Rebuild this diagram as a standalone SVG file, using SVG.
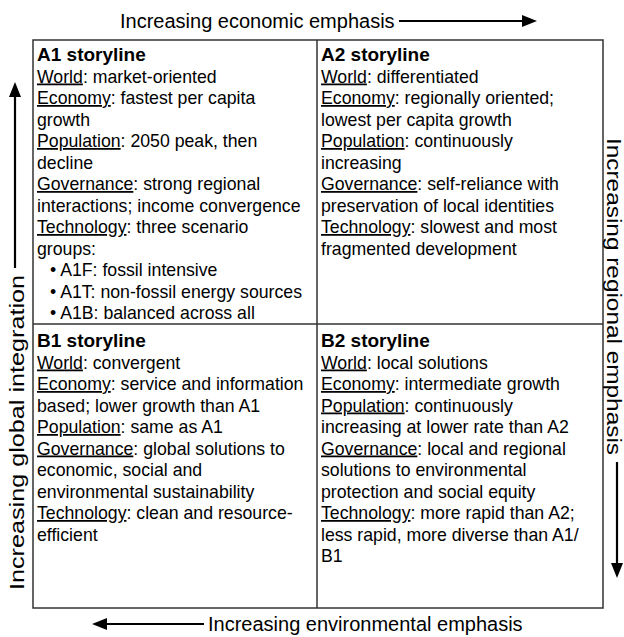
<svg xmlns="http://www.w3.org/2000/svg" width="624" height="637" viewBox="0 0 624 637">
  <style>
    .frame { fill: none; stroke: #333; stroke-width: 1.5; }
    .axis { stroke: #000; stroke-width: 2.2; fill: none; }
    .axislabel { font-family: "Liberation Sans", Arial, sans-serif; font-size: 20px; fill: #000; }
    .body { font-family: "Liberation Sans", Arial, sans-serif; font-size: 17.7px; fill: #000; }
    .head { font-weight: bold; font-size: 19px; }
    .u { text-decoration: underline; }
  </style>
  <defs>
    <marker id="head" viewBox="0 0 15 12" refX="0" refY="6" markerWidth="15" markerHeight="12" markerUnits="userSpaceOnUse" orient="auto">
      <path d="M0,0 L15,6 L0,12 Z" fill="#000"/>
    </marker>
  </defs>

  <!-- quadrant frame -->
  <rect class="frame" x="33" y="40" width="570" height="568"/>
  <line class="frame" x1="317" y1="40" x2="317" y2="608"/>
  <line class="frame" x1="33" y1="324" x2="603" y2="324"/>

  <!-- axis arrows -->
  <g id="connectors">
    <line class="axis" x1="399" y1="21" x2="522" y2="21" marker-end="url(#head)"/>
    <line class="axis" x1="204" y1="624" x2="107" y2="624" marker-end="url(#head)"/>
    <line class="axis" x1="15" y1="268" x2="15" y2="97" marker-end="url(#head)"/>
    <line class="axis" x1="617" y1="462" x2="617" y2="563" marker-end="url(#head)"/>
  </g>

  <g id="axis-labels">
    <text class="axislabel" x="120" y="28">Increasing economic emphasis</text>
    <text class="axislabel" x="208" y="631">Increasing environmental emphasis</text>
    <text class="axislabel" transform="translate(24,590) rotate(-90)" textLength="315" lengthAdjust="spacingAndGlyphs">Increasing global integration</text>
    <text class="axislabel" transform="translate(607,138) rotate(90)" textLength="317" lengthAdjust="spacingAndGlyphs">Increasing regional emphasis</text>
  </g>

  <g id="a1">
    <text class="body">
      <tspan class="head" x="37" y="61">A1 storyline</tspan>
      <tspan x="37" y="82.5"><tspan class="u">World</tspan>: market-oriented</tspan>
      <tspan x="37" y="104"><tspan class="u">Economy</tspan>: fastest per capita</tspan>
      <tspan x="37" y="125.5">growth</tspan>
      <tspan x="37" y="147"><tspan class="u">Population</tspan>: 2050 peak, then</tspan>
      <tspan x="37" y="168.5">decline</tspan>
      <tspan x="37" y="190"><tspan class="u">Governance</tspan>: strong regional</tspan>
      <tspan x="37" y="211.5">interactions; income convergence</tspan>
      <tspan x="37" y="233"><tspan class="u">Technology</tspan>: three scenario</tspan>
      <tspan x="37" y="254.5">groups:</tspan>
      <tspan x="50" y="276">• A1F: fossil intensive</tspan>
      <tspan x="50" y="297.5">• A1T: non-fossil energy sources</tspan>
      <tspan x="50" y="319">• A1B: balanced across all</tspan>
    </text>
  </g>

  <g id="a2">
    <text class="body">
      <tspan class="head" x="321" y="61">A2 storyline</tspan>
      <tspan x="321" y="82.5"><tspan class="u">World</tspan>: differentiated</tspan>
      <tspan x="321" y="104"><tspan class="u">Economy</tspan>: regionally oriented;</tspan>
      <tspan x="321" y="125.5">lowest per capita growth</tspan>
      <tspan x="321" y="147"><tspan class="u">Population</tspan>: continuously</tspan>
      <tspan x="321" y="168.5">increasing</tspan>
      <tspan x="321" y="190"><tspan class="u">Governance</tspan>: self-reliance with</tspan>
      <tspan x="321" y="211.5">preservation of local identities</tspan>
      <tspan x="321" y="233"><tspan class="u">Technology</tspan>: slowest and most</tspan>
      <tspan x="321" y="254.5">fragmented development</tspan>
    </text>
  </g>

  <g id="b1">
    <text class="body">
      <tspan class="head" x="37" y="347">B1 storyline</tspan>
      <tspan x="37" y="368.5"><tspan class="u">World</tspan>: convergent</tspan>
      <tspan x="37" y="390"><tspan class="u">Economy</tspan>: service and information</tspan>
      <tspan x="37" y="411.5">based; lower growth than A1</tspan>
      <tspan x="37" y="433"><tspan class="u">Population</tspan>: same as A1</tspan>
      <tspan x="37" y="454.5"><tspan class="u">Governance</tspan>: global solutions to</tspan>
      <tspan x="37" y="476">economic, social and</tspan>
      <tspan x="37" y="497.5">environmental sustainability</tspan>
      <tspan x="37" y="519"><tspan class="u">Technology</tspan>: clean and resource-</tspan>
      <tspan x="37" y="540.5">efficient</tspan>
    </text>
  </g>

  <g id="b2">
    <text class="body">
      <tspan class="head" x="321" y="347">B2 storyline</tspan>
      <tspan x="321" y="368.5"><tspan class="u">World</tspan>: local solutions</tspan>
      <tspan x="321" y="390"><tspan class="u">Economy</tspan>: intermediate growth</tspan>
      <tspan x="321" y="411.5"><tspan class="u">Population</tspan>: continuously</tspan>
      <tspan x="321" y="433">increasing at lower rate than A2</tspan>
      <tspan x="321" y="454.5"><tspan class="u">Governance</tspan>: local and regional</tspan>
      <tspan x="321" y="476">solutions to environmental</tspan>
      <tspan x="321" y="497.5">protection and social equity</tspan>
      <tspan x="321" y="519"><tspan class="u">Technology</tspan>: more rapid than A2;</tspan>
      <tspan x="321" y="540.5">less rapid, more diverse than A1/</tspan>
      <tspan x="321" y="562">B1</tspan>
    </text>
  </g>
</svg>
